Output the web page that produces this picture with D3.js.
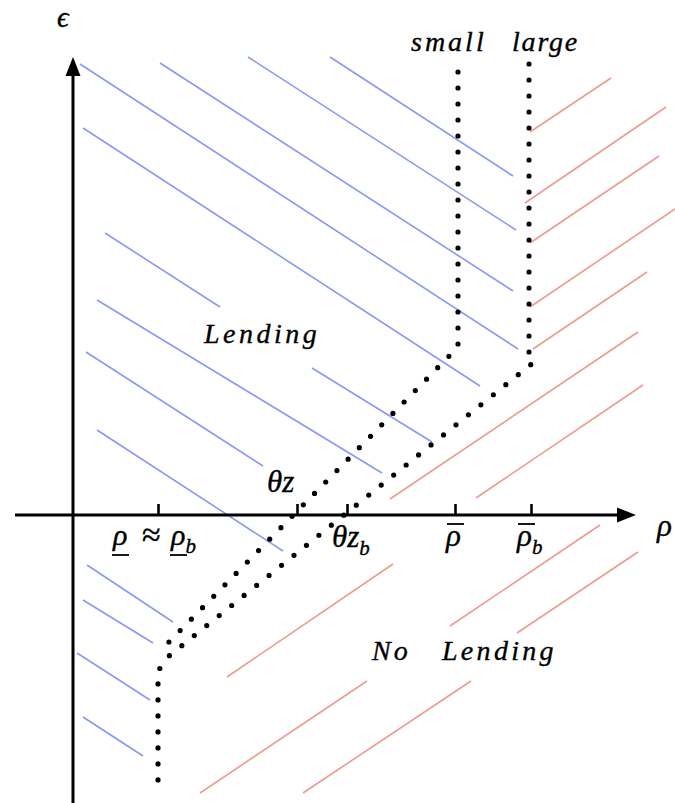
<!DOCTYPE html>
<html><head><meta charset="utf-8">
<script src="https://cdn.jsdelivr.net/npm/d3@7"></script>
<style>html,body{margin:0;padding:0;background:#fff;} svg{display:block;}
text{font-family:"Liberation Serif","Times New Roman","DejaVu Serif",serif;font-style:italic;fill:#000;stroke:#000;stroke-width:0.35px;}
</style>
</head><body>
<svg id="chart" width="675" height="803"></svg>
<script>
// ---------- data (abstract rho / epsilon units) ----------
const xDomain = [0, 56.3];
const yDomain = [-28.8, 45.8];

// "Lending" hatch segments: [x1, y1, x2, y2]
const lendingHatch = [
  [25.7, 45.8, 44.0, 33.9],
  [17.5, 45.8, 44.3, 28.5],
  [8.7, 45.2, 44.0, 22.4],
  [0.7, 45.1, 44.5, 16.6],
  [1.0, 38.7, 40.7, 12.9],
  [3.2, 28.2, 14.7, 20.8],
  [23.9, 14.7, 35.9, 7.3],
  [2.4, 21.5, 30.9, 4.2],
  [1.3, 16.3, 19.0, 4.9],
  [2.4, 8.5, 21.0, -3.6],
  [1.4, -5.0, 10.0, -10.7],
  [1.0, -8.5, 8.0, -12.8],
  [0.4, -13.8, 7.7, -18.5],
  [1.0, -20.2, 7.0, -24.1]
];
// "No Lending" hatch segments
const noLendingHatch = [
  [45.7, 38.3, 53.8, 43.7],
  [45.2, 31.2, 59.3, 40.8],
  [45.7, 27.2, 58.6, 35.9],
  [45.7, 20.8, 60.2, 30.6],
  [46.0, 16.6, 57.4, 24.3],
  [31.7, 1.6, 56.5, 18.3],
  [40.3, 1.7, 57.0, 13.0],
  [37.7, -11.1, 52.7, -1.0],
  [44.4, -11.8, 56.5, -3.7],
  [15.4, -16.2, 32.0, -4.9],
  [12.7, -27.8, 29.4, -16.6],
  [23.0, -27.8, 39.8, -16.6]
];
// dotted boundaries
const smallBoundary = [[38.5, 44.3], [38.5, 16.8], [9.3, -13.0]];
const largeBoundary = [[45.6, 45.1], [45.6, 15.9], [46.1, 15.3], [9.6, -14.1], [8.5, -15.6], [8.5, -27.0]];
const boundaryNames = ["small", "large"];

// x-axis ticks
const tickValues = [8.5, 22.4, 27.4, 38.2, 45.8];

// ---------- drawing ----------
const svg = d3.select("#chart");
const x = d3.scaleLinear().domain(xDomain).range([73, 636]);
const y = d3.scaleLinear().domain(yDomain).range([803, 57]);

const BLUE = "#8a98f5", RED = "#ee9a8e";

svg.append("g").selectAll("line").data(lendingHatch).join("line")
  .attr("x1", d => x(d[0])).attr("y1", d => y(d[1]))
  .attr("x2", d => x(d[2])).attr("y2", d => y(d[3]))
  .attr("stroke", BLUE).attr("stroke-width", 1.6);

svg.append("g").selectAll("line").data(noLendingHatch).join("line")
  .attr("x1", d => x(d[0])).attr("y1", d => y(d[1]))
  .attr("x2", d => x(d[2])).attr("y2", d => y(d[3]))
  .attr("stroke", RED).attr("stroke-width", 1.6);

// axes
const axisG = svg.append("g");
const x0 = x(0), y0 = y(0);
axisG.append("line").attr("x1", 15).attr("y1", y0).attr("x2", x(xDomain[1]) - 16).attr("y2", y0)
  .attr("stroke", "#000").attr("stroke-width", 3);
axisG.append("path").attr("d", `M${x(xDomain[1])},${y0} L${x(xDomain[1]) - 19},${y0 - 7.5} L${x(xDomain[1]) - 19},${y0 + 7.5} Z`).attr("fill", "#000");
axisG.append("line").attr("x1", x0).attr("y1", y(yDomain[0])).attr("x2", x0).attr("y2", y(yDomain[1]) + 16)
  .attr("stroke", "#000").attr("stroke-width", 3);
axisG.append("path").attr("d", `M${x0},${y(yDomain[1])} L${x0 - 7.5},${y(yDomain[1]) + 19} L${x0 + 7.5},${y(yDomain[1]) + 19} Z`).attr("fill", "#000");

// ticks via d3 axis
const xAxis = d3.axisBottom(x).tickValues(tickValues).tickSizeInner(-11).tickSizeOuter(0).tickFormat("");
const tg = svg.append("g").attr("transform", `translate(0,${y0})`).call(xAxis);
tg.select(".domain").remove();
tg.selectAll(".tick line").attr("stroke", "#000").attr("stroke-width", 2.6);

// dotted boundaries
const line = d3.line().x(d => x(d[0])).y(d => y(d[1]));
svg.append("g").selectAll("path").data([smallBoundary, largeBoundary]).join("path")
  .attr("d", line).attr("fill", "none").attr("stroke", "#000")
  .attr("stroke-width", 5.2).attr("stroke-linecap", "round").attr("stroke-dasharray", "0 16");

// text helpers
function txt(px, py, size) {
  return svg.append("text").attr("x", px).attr("y", py).style("font-size", size + "px");
}

// axis titles
txt(x0 - 16, 27, 29).text("ϵ");
txt(657, 536, 31).text("ρ");

// boundary names
txt(x(smallBoundary[0][0]) - 47, 51, 28).style("letter-spacing", "3px").text(boundaryNames[0]);
txt(x(largeBoundary[0][0]) - 17, 51, 28).style("letter-spacing", "1.8px").text(boundaryNames[1]);

// region labels
txt(204, 343, 28).style("letter-spacing", "3.5px").text("Lending");
txt(372, 660, 28).style("letter-spacing", "3px").text("No");
txt(442, 660, 28).style("letter-spacing", "3.3px").text("Lending");

// tick labels
const tx = tickValues.map(v => x(v));
function underBar(x1, x2, yy) {
  svg.append("line").attr("x1", x1).attr("x2", x2).attr("y1", yy).attr("y2", yy)
    .attr("stroke", "#000").attr("stroke-width", 1.8);
}
{ // rho ≈ rho_b
  const t = txt(tx[0] - 45, y0 + 30, 30);
  t.append("tspan").text("ρ");
  t.append("tspan").attr("x", tx[0] - 16).attr("dy", 1).style("font-style", "normal").style("font-size", "34px").text("≈");
  t.append("tspan").attr("x", tx[0] + 13).attr("dy", -1).text("ρ");
  t.append("tspan").style("font-size", "21px").attr("dy", 8).text("b");
  underBar(tx[0] - 46, tx[0] - 29, y0 + 40);
  underBar(tx[0] + 12, tx[0] + 29, y0 + 40);
}
{ // theta z
  const t = txt(tx[1] - 30, y0 - 23, 31);
  t.append("tspan").text("θz");
}
{ // theta z_b
  const t = txt(tx[2] - 15, y0 + 32, 31);
  t.append("tspan").text("θz");
  t.append("tspan").style("font-size", "21px").attr("dy", 8).text("b");
}
{ // rho bar
  const t = txt(tx[3] - 9, y0 + 31, 31);
  t.append("tspan").text("ρ");
  underBar(tx[3] - 8, tx[3] + 9, y0 + 9);
}
{ // rho bar b
  const t = txt(tx[4] - 14, y0 + 31, 31);
  t.append("tspan").text("ρ");
  t.append("tspan").style("font-size", "21px").attr("dy", 8).text("b");
  underBar(tx[4] - 13, tx[4] + 4, y0 + 9);
}
</script>
</body></html>
